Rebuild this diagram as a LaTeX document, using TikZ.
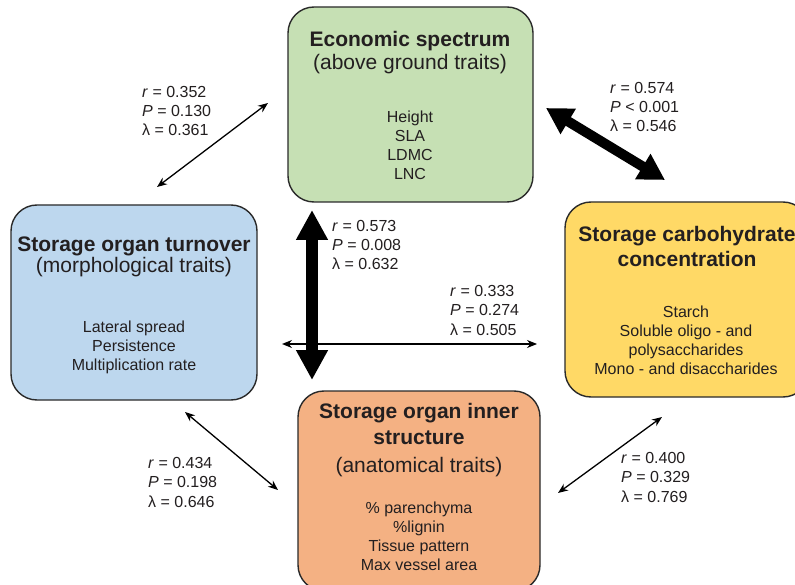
\documentclass[tikz,border=0pt]{standalone}
\usepackage{fontspec}
\setmainfont{Liberation Sans}
\usetikzlibrary{arrows.meta}
\definecolor{gfill}{HTML}{C6E0B4}
\definecolor{bfill}{HTML}{BDD7EE}
\definecolor{yfill}{HTML}{FFD966}
\definecolor{ofill}{HTML}{F4B183}
\definecolor{edge}{HTML}{2A2A2A}
\definecolor{ink}{HTML}{231F20}
\begin{document}
\begin{tikzpicture}[x=1pt,y=-1pt,
  box/.style={draw=edge, line width=1.4pt, rounded corners=26pt, inner sep=0pt, minimum height=195pt},
  ttl/.style={font=\fontsize{21}{25.5}\selectfont\bfseries, align=center, anchor=base, inner sep=0pt, text=ink},
  sub/.style={font=\fontsize{21}{25}\selectfont, align=center, anchor=base, inner sep=0pt, text=ink},
  lst/.style={font=\fontsize{16}{19}\selectfont, align=center, anchor=base, inner sep=0pt, text=ink},
  stat/.style={font=\fontsize{16}{19.3}\selectfont, align=left, anchor=base west, inner sep=0pt, text=ink},
  thinarrow/.style={line width=1.3pt, {Stealth[length=10pt,width=8pt]}-{Stealth[length=10pt,width=8pt]}},
  thickarrow/.style={line width=12pt, {Triangle[length=30pt,width=30pt]}-{Triangle[length=30pt,width=30pt]}},
  diagarrow/.style={line width=10pt, {Triangle[length=26pt,width=28pt]}-{Triangle[length=26pt,width=28pt]}},
]
\useasboundingbox (0,0) rectangle (795,585);
\clip (0,0) rectangle (795,585);
\fill[white] (0,0) rectangle (795,585);

% boxes
\node[box, fill=gfill, minimum width=245pt] (eco) at (410.5,104.5) {};
\node[box, fill=bfill, minimum width=246pt] (turn) at (134,302.5) {};
\node[box, fill=yfill, minimum width=244pt] (carb) at (687,299.5) {};
\node[box, fill=ofill, minimum width=242pt, minimum height=200pt] (inner) at (419,491) {};

% texts (base anchor = baseline of the last line)
\node[ttl] (ecoT) at (410,47) {Economic spectrum};
\node[sub] (ecoS) at (410,70) {(above ground traits)};
\node[lst] (ecoL) at (410,180) {Height\\SLA\\LDMC\\LNC};

\node[ttl] (turnT) at (134,252) {Storage organ turnover};
\node[sub] (turnS) at (134,273) {(morphological traits)};
\node[lst] (turnL) at (134,370) {Lateral spread\\Persistence\\Multiplication rate};

\node[ttl] (carbT) at (687,267) {Storage carbohydrate\\concentration};
\node[lst] (carbL) at (686,374) {Starch\\Soluble oligo - and\\polysaccharides\\Mono - and disaccharides};

\node[ttl] (innT) at (419,444) {Storage organ inner\\structure};
\node[sub] (innS) at (419,472) {(anatomical traits)};
\node[lst] (innL) at (419,570) {\% parenchyma\\\%lignin\\Tissue pattern\\Max vessel area};

% arrow end points
\coordinate (a1s) at (157,187); \coordinate (a1e) at (268,103);
\coordinate (a2s) at (546,108); \coordinate (a2e) at (665,180);
\coordinate (a3s) at (312,210); \coordinate (a3e) at (312,380);
\coordinate (a4s) at (282,344); \coordinate (a4e) at (537,344);
\coordinate (a5s) at (185,412); \coordinate (a5e) at (278,490);
\coordinate (a6s) at (558,493); \coordinate (a6e) at (662,417);

\draw[thinarrow] (a4s) -- (a4e);
\draw[thickarrow] (a3s) -- (a3e);
\draw[diagarrow] (a2s) -- (a2e);
\draw[thinarrow] (a1s) -- (a1e);
\draw[thinarrow] (a5s) -- (a5e);
\draw[thinarrow] (a6s) -- (a6e);

% statistics
\node[stat] (s1) at (142,136) {\textit{r} = 0.352\\\textit{P} = 0.130\\λ = 0.361};
\node[stat] (s2) at (610,132) {\textit{r} = 0.574\\\textit{P} < 0.001\\λ = 0.546};
\node[stat] (s3) at (332,270) {\textit{r} = 0.573\\\textit{P} = 0.008\\λ = 0.632};
\node[stat] (s4) at (450,335) {\textit{r} = 0.333\\\textit{P} = 0.274\\λ = 0.505};
\node[stat] (s5) at (148,507) {\textit{r} = 0.434\\\textit{P} = 0.198\\λ = 0.646};
\node[stat] (s6) at (621,502) {\textit{r} = 0.400\\\textit{P} = 0.329\\λ = 0.769};
\end{tikzpicture}
\end{document}
